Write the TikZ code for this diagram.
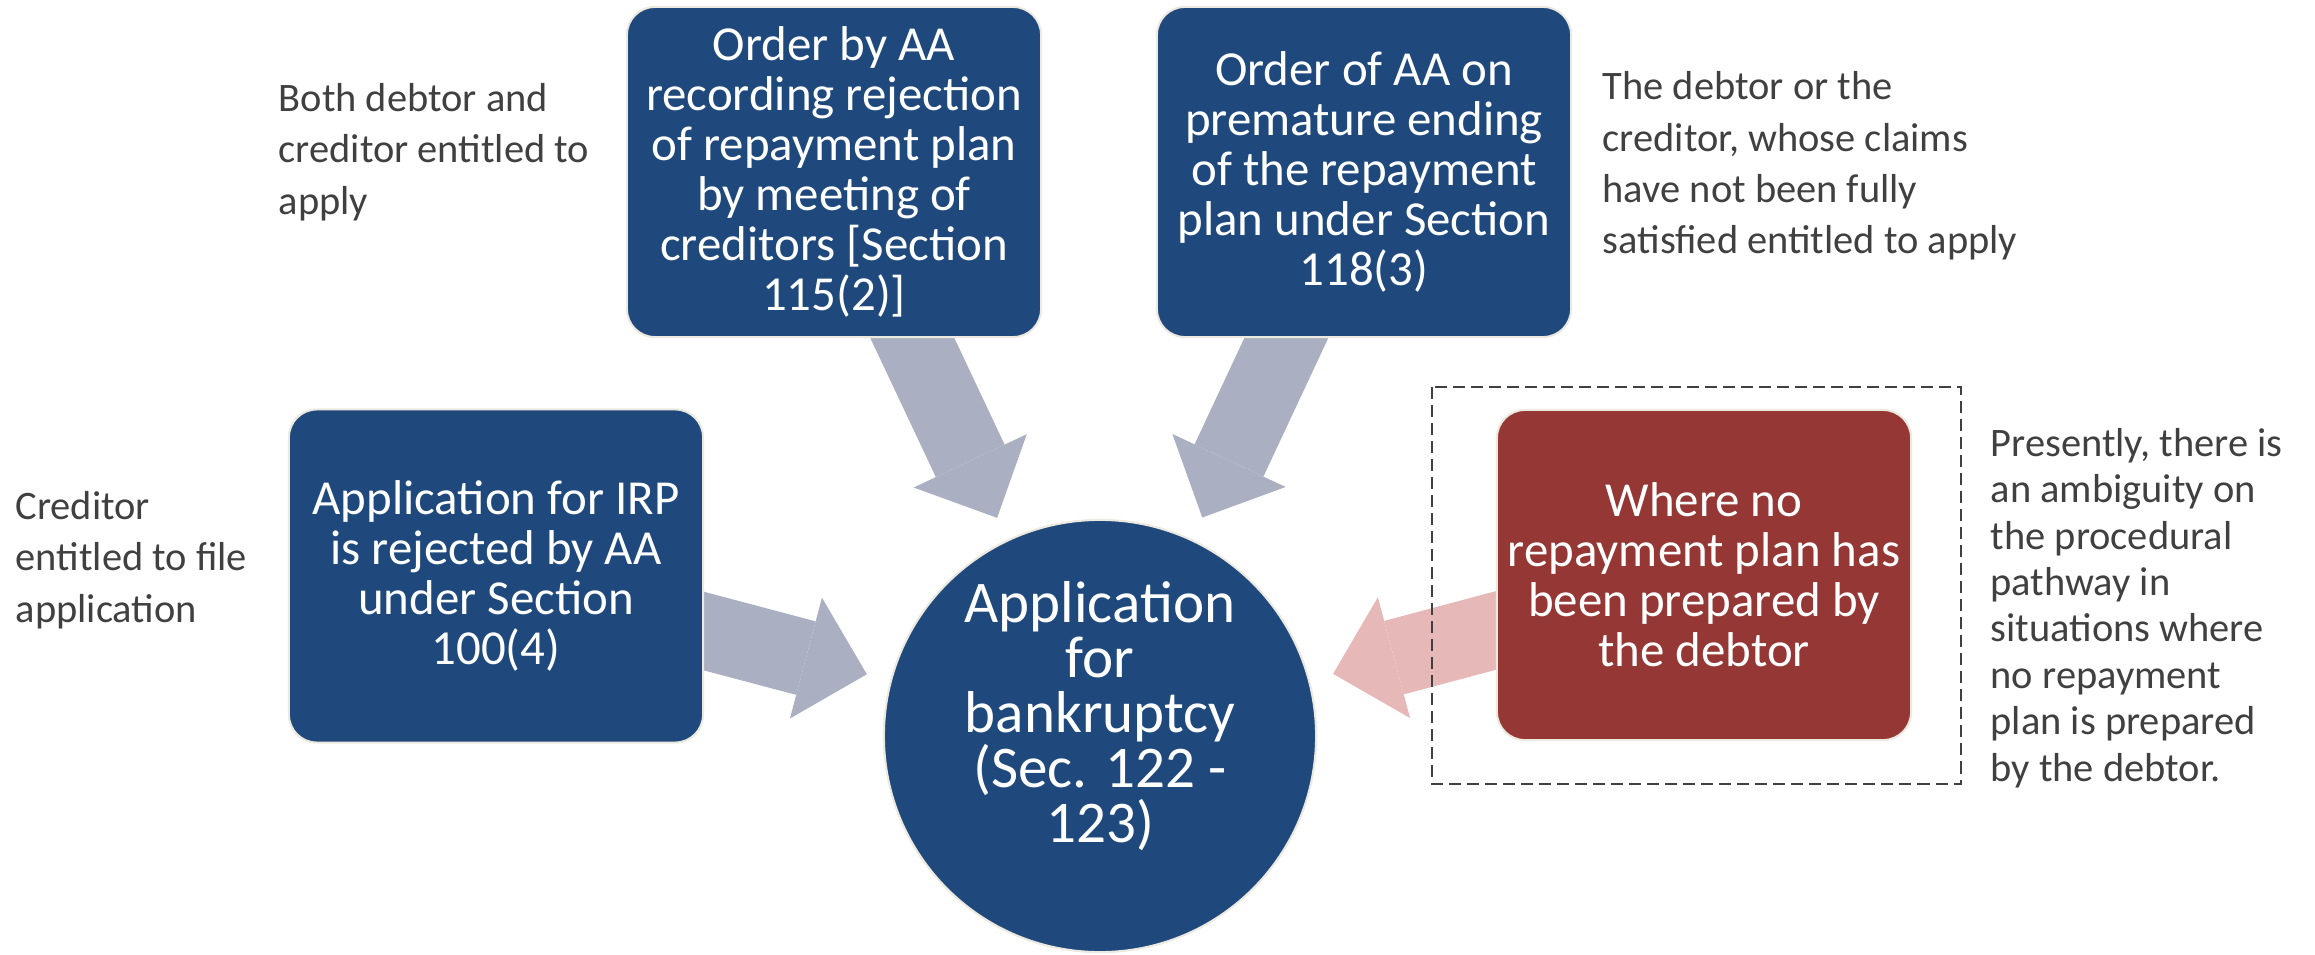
\documentclass[tikz,border=0pt]{standalone}
\usepackage{fontspec}
\setmainfont{Carlito}
\usetikzlibrary{arrows.meta,backgrounds}

\definecolor{boxblue}{RGB}{31,73,125}
\definecolor{boxred}{RGB}{149,55,53}
\definecolor{linkgray}{RGB}{170,176,193}
\definecolor{linkpink}{RGB}{230,185,184}
\definecolor{rimcol}{RGB}{235,233,224}
\definecolor{notecol}{RGB}{64,64,64}

\tikzset{
  stepbox/.style={rectangle, rounded corners=0.28cm, draw=rimcol, line width=0.6pt,
    fill=boxblue, text=white, align=center, minimum width=4.14cm, minimum height=3.3cm,
    inner sep=0pt, font=\fontsize{13.9}{14.2}\selectfont},
  hub/.style={circle, draw=rimcol, line width=0.6pt, fill=boxblue, minimum size=4.32cm, inner sep=0pt},
  hubtext/.style={text=white, align=center, inner sep=0pt, font=\fontsize{16.8}{15.6}\selectfont},
  note/.style={anchor=west, align=left, text=notecol, inner sep=0pt, font=\fontsize{11.5}{14.6}\selectfont},
  link/.style={line width=0.76cm, linkgray, shorten >=0.24cm,
    -{Triangle[width=1.25cm,length=0.63cm,line width=0pt]}},
  frame/.style={draw=notecol, line width=0.45pt, dash pattern=on 0.12cm off 0.06cm},
}

\begin{document}
\begin{tikzpicture}[x=0.01cm, y=-0.01cm]
\useasboundingbox (0,0) rectangle (2315,955);
% boxes
\node[stepbox] (order) at (834,172) {Order by AA\\recording rejection\\of repayment plan\\by meeting of\\creditors [Section\\115(2)]};
\node[stepbox] (premature) at (1364,172) {Order of AA on\\premature ending\\of the repayment\\plan under Section\\118(3)};
\node[stepbox, minimum height=3.33cm] (irp) at (496,576) {Application for IRP\\is rejected by AA\\under Section\\100(4)};
\node[stepbox, fill=boxred] (noplan) at (1704,575) {Where no\\repayment plan has\\been prepared by\\the debtor};
\node[hub] (bankr) at (1100,736) {};
\node[hubtext] (bankrtext) at (1100,716) {Application\\for\\bankruptcy\\(Sec. 122 -\\123)};
% dashed frame
\draw[frame] (1432,387) rectangle (1961,784);
% notes
\node[note] (both) at (278,152) {Both debtor and\\creditor entitled to\\apply};
\node[note] (unpaid) at (1602,166) {The debtor or the\\creditor, whose claims\\have not been fully\\satisfied entitled to apply};
\node[note] (credonly) at (15,560) {Creditor\\entitled to file\\application};
\node[note, font=\fontsize{11.5}{13.2}\selectfont] (ambig) at (1990,608) {Presently, there is\\an ambiguity on\\the procedural\\pathway in\\situations where\\no repayment\\plan is prepared\\by the debtor.};
% arrows
\begin{scope}[on background layer]
\draw[link] (order.center) -- (bankr);
\draw[link] (premature.center) -- (bankr);
\draw[link] (irp.center) -- (bankr);
\draw[link, linkpink] (noplan.center) -- (bankr);
\end{scope}
\end{tikzpicture}
\end{document}
